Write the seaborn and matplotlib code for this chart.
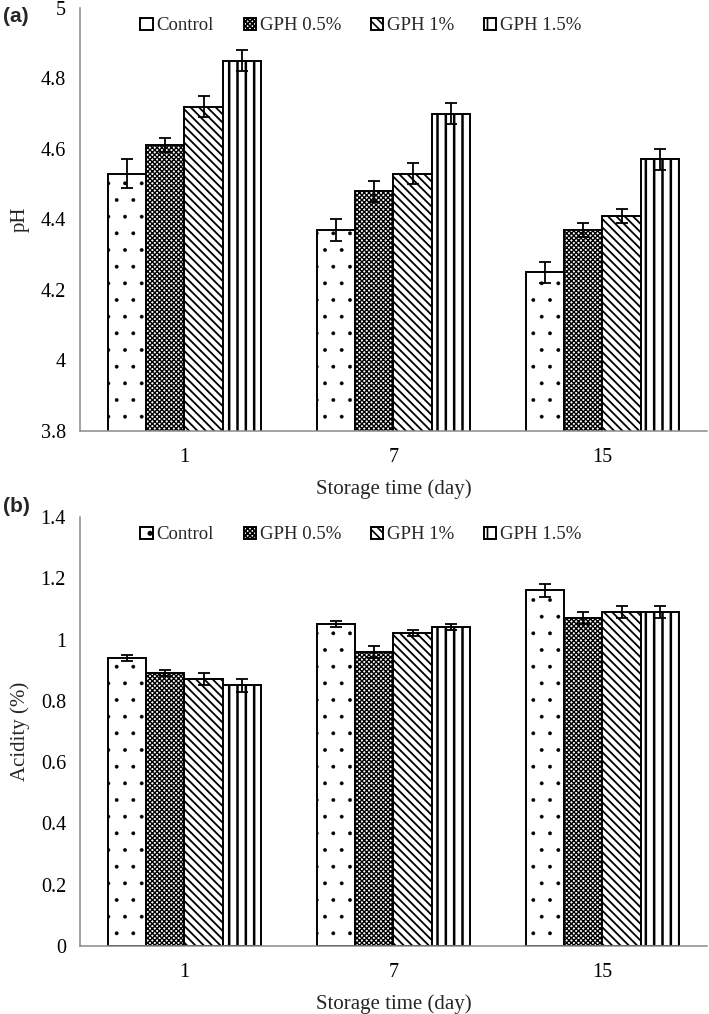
import numpy as np
import pandas as pd
import matplotlib
matplotlib.use("Agg")
import matplotlib.pyplot as plt
import seaborn as sns

days = ["1", "7", "15"]
treatments = ["Control", "GPH 0.5%", "GPH 1%", "GPH 1.5%"]

ph_values = {
    "Control":  [4.53, 4.37, 4.25],
    "GPH 0.5%": [4.61, 4.48, 4.37],
    "GPH 1%":   [4.72, 4.53, 4.41],
    "GPH 1.5%": [4.85, 4.70, 4.57],
}
ph_errors = {
    "Control":  [0.04, 0.03, 0.03],
    "GPH 0.5%": [0.02, 0.03, 0.02],
    "GPH 1%":   [0.03, 0.03, 0.02],
    "GPH 1.5%": [0.03, 0.03, 0.03],
}
acid_values = {
    "Control":  [0.94, 1.05, 1.16],
    "GPH 0.5%": [0.89, 0.96, 1.07],
    "GPH 1%":   [0.87, 1.02, 1.09],
    "GPH 1.5%": [0.85, 1.04, 1.09],
}
acid_errors = {
    "Control":  [0.01, 0.01, 0.02],
    "GPH 0.5%": [0.01, 0.02, 0.02],
    "GPH 1%":   [0.02, 0.01, 0.02],
    "GPH 1.5%": [0.02, 0.01, 0.02],
}

hatches = [".", "xxxxxxx", "\\\\\\\\", "||"]
hatch_lw = [0.3, 1.0, 1.3, 1.8]

sns.set_theme(style="white")
plt.rcParams["font.family"] = ["Liberation Serif", "DejaVu Serif"]
plt.rcParams["hatch.linewidth"] = 1.2
plt.rcParams["hatch.color"] = "black"

fig = plt.figure(figsize=(7.09, 10.14), dpi=100)
ax_a = fig.add_axes([0.1128, 0.5750, 0.8843, 0.4172])
ax_b = fig.add_axes([0.1128, 0.0671, 0.8843, 0.4231])

GRAY = "#8a8a8a"


def make_df(vals, errs):
    rows = []
    for t in treatments:
        for i, d in enumerate(days):
            rows.append({"day": d, "treatment": t, "value": vals[t][i], "err": errs[t][i]})
    return pd.DataFrame(rows)


def style_patch(p, h, lw):
    p.set_hatch(h)
    p.set_facecolor("white")
    p.set_edgecolor("black")
    if hasattr(p, "set_hatch_linewidth"):
        try:
            p.set_hatch_linewidth(lw)
        except Exception:
            pass


def draw(ax, vals, errs, ylim, yticks, ylabel, legend_y, panel, panel_y):
    df = make_df(vals, errs)
    sns.barplot(data=df, x="day", y="value", hue="treatment", order=days,
                hue_order=treatments, palette=["white"] * 4, edgecolor="black",
                linewidth=1.4, errorbar=None, width=0.73, saturation=1,
                legend=False, ax=ax)
    for cont, h, lw, t in zip(ax.containers, hatches, hatch_lw, treatments):
        xs, hs = [], []
        for p in cont.patches:
            style_patch(p, h, lw)
            xs.append(p.get_x() + p.get_width() / 2)
            hs.append(p.get_height())
        ax.errorbar(xs, hs, yerr=errs[t], fmt="none", ecolor="black",
                    elinewidth=1.3, capsize=4, capthick=1.3, zorder=5)
    ax.set_xlim(-0.5, 2.5)
    ax.set_ylim(*ylim)
    ax.set_yticks(yticks)
    ax.set_yticklabels([f"{v:g}" for v in yticks])
    ax.set_xticks(range(len(days)))
    ax.set_xticklabels(days)
    ax.set_xticks([-0.5, 0.5, 1.5, 2.5], minor=True)
    ax.tick_params(axis="x", which="major", length=0, pad=12, labelsize=14.5, colors="black")
    ax.tick_params(axis="x", which="minor", length=6, width=1, color=GRAY, direction="out")
    ax.tick_params(axis="y", which="major", length=6, width=1, color=GRAY, direction="out",
                   labelsize=14.5, labelcolor="black", pad=4)
    ax.tick_params(axis="x", labelcolor="black")
    for s in ["top", "right"]:
        ax.spines[s].set_visible(False)
    for s in ["left", "bottom"]:
        ax.spines[s].set_color(GRAY)
        ax.spines[s].set_linewidth(1.1)
    ax.set_xlabel("Storage time (day)", fontsize=15, labelpad=9)
    ax.set_ylabel(ylabel, fontsize=15, labelpad=8)
    fig.legend(ax.containers, treatments, loc="center",
               bbox_to_anchor=(0.509, legend_y), ncol=4, frameon=False,
               fontsize=13.5, handlelength=0.65, handleheight=0.65,
               handletextpad=0.2, columnspacing=1.6)
    fig.text(0.004, panel_y, panel, fontsize=15, fontweight="bold",
             family=["Liberation Sans", "DejaVu Sans"], va="center", ha="left")


draw(ax_a, ph_values, ph_errors, (3.8, 5.0), [3.8, 4.0, 4.2, 4.4, 4.6, 4.8, 5.0],
     "pH", 0.9744, "(a)", 1 - 17 / 1014)
draw(ax_b, acid_values, acid_errors, (0, 1.4), [0, 0.2, 0.4, 0.6, 0.8, 1.0, 1.2, 1.4],
     "Acidity (%)", 0.4724, "(b)", 1 - 507 / 1014)

fig.savefig("out.png", dpi=100)
